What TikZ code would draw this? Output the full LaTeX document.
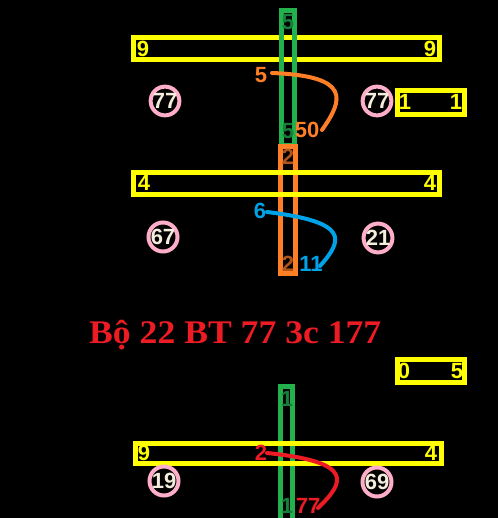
\documentclass[tikz,border=0pt]{standalone}
\usepackage{fontspec}
\setmainfont{Liberation Sans}
\newfontfamily\titlefont{Liberation Serif}
\definecolor{cyel}{HTML}{FFFF00}
\definecolor{cgreen}{HTML}{22B14C}
\definecolor{cgreentxt}{HTML}{15803A}
\definecolor{corange}{HTML}{FF7F27}
\definecolor{corangetxt}{HTML}{B0561A}
\definecolor{cblue}{HTML}{00A2E8}
\definecolor{cred}{HTML}{ED1C24}
\definecolor{cpink}{HTML}{FFAEC9}
\definecolor{ccream}{HTML}{F4ECDC}
\tikzset{
  ybox/.style={draw=cyel, line width=4.5pt},
  gbox/.style={draw=cgreen, line width=4.5pt},
  obox/.style={draw=corange, line width=4.5pt},
  num/.style={font=\bfseries\fontsize{22}{22}\selectfont, inner sep=0pt},
  ynum/.style={num, text=cyel},
  gnum/.style={num, text=cgreentxt},
  onum/.style={num, text=corangetxt},
  circnum/.style={num, text=ccream, circle, draw=cpink, line width=4pt, minimum size=28pt},
  curve/.style={line width=4pt, line cap=round},
}
\begin{document}
\begin{tikzpicture}[x=1pt,y=-1pt]
\fill[black] (0,0) rectangle (498,518);
\useasboundingbox (0,0) rectangle (498,518);
\begin{scope}
\clip (0,0) rectangle (498,518);
% ---------- top block ----------
\draw[ybox] (133.5,37.5) rectangle (439.5,59.5);
\draw[gbox] (281.5,10.5) rectangle (294.5,145);
\node[ynum] (t9a) at (143,49) {9};
\node[ynum] (t9b) at (430,49) {9};
\node[gnum] (t5a) at (288,22) {5};
\node[gnum] (t5b) at (288,131) {5};
\node[num, text=corange] (t5o) at (261,75) {5};
\node[num, text=corange] (t50) at (307,130) {50};
\coordinate (os) at (272,73);
\coordinate (oe) at (322,130);
\draw[curve, corange] (os) .. controls (352,76) and (343,100) .. (oe);
\node[circnum] (c77a) at (165,101) {77};
\node[circnum] (c77b) at (377,101) {77};
\draw[ybox] (397.5,90.5) rectangle (464.5,114.5);
\node[ynum] (s1a) at (405,102) {1};
\node[ynum] (s1b) at (456,102) {1};
% ---------- middle block ----------
\draw[obox] (280.5,146.5) rectangle (295.5,273.5);
\draw[ybox] (133.5,172.5) rectangle (439.5,194.5);
\node[onum] (m2a) at (288,157) {2};
\node[onum] (m2b) at (288,264) {2};
\node[ynum] (m4a) at (144,183) {4};
\node[ynum] (m4b) at (430,183) {4};
\node[num, text=cblue] (m6) at (260,211) {6};
\node[num, text=cblue] (m11) at (311,264) {11};
\coordinate (bs) at (267,212);
\coordinate (be) at (320,266);
\draw[curve, cblue] (bs) .. controls (350,222) and (343,240) .. (be);
\node[circnum] (c67) at (163,237) {67};
\node[circnum] (c21) at (378,238) {21};
% ---------- title ----------
\node[inner sep=0pt, anchor=base west, text=cred, xscale=1.08, font=\titlefont\bfseries\fontsize{33}{33}\selectfont] (title) at (89,343) {Bộ 22 BT 77 3c 177};
\draw[ybox] (397.5,359.5) rectangle (464.5,382.5);
\node[ynum] (z0) at (404,371) {0};
\node[ynum] (z5) at (457,371) {5};
% ---------- bottom block ----------
\draw[gbox] (280.5,386.5) rectangle (292.5,530);
\draw[ybox] (135.5,443.5) rectangle (441.5,463.5);
\node[gnum] (b1a) at (287,399) {1};
\node[gnum] (b1b) at (287,506) {1};
\node[ynum] (b9) at (144,453) {9};
\node[ynum] (b4) at (431,453) {4};
\node[num, text=cred] (b2) at (261,453) {2};
\node[num, text=cred] (b77) at (308,506) {77};
\coordinate (rs) at (267,453);
\coordinate (re) at (318,508);
\draw[curve, cred] (rs) .. controls (355,462) and (345,482) .. (re);
\node[circnum] (c19) at (164,481) {19};
\node[circnum] (c69) at (377,482) {69};
\end{scope}
\end{tikzpicture}
\end{document}
